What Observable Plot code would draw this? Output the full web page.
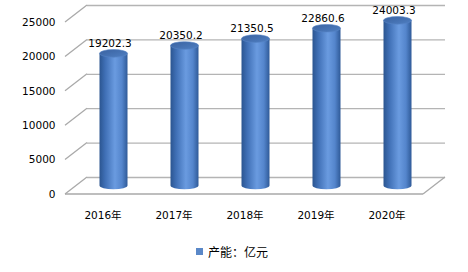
<!DOCTYPE html>
<html><head><meta charset="utf-8">
<script src="https://cdn.jsdelivr.net/npm/d3@7"></script>
<script src="https://cdn.jsdelivr.net/npm/@observablehq/plot@0.6"></script>
<style>
body{margin:0;background:#fff;}
#wrap{position:relative;width:468px;height:272px;overflow:hidden;font-family:"DejaVu Sans",sans-serif;}
#legend{position:absolute;left:196px;top:243px;height:16px;display:flex;align-items:center;font-family:"Noto Sans CJK SC","DejaVu Sans",sans-serif;font-size:12px;color:#000;}
#legend .sw{width:7px;height:7px;background:#5a88c8;margin-right:5px;}
</style></head>
<body><div id="wrap"><div id="chart"></div><div id="legend"><span class="sw"></span><span>产能：亿元</span></div></div>
<script>
const years = ["2016年","2017年","2018年","2019年","2020年"];
const values = [19202.3, 20350.2, 21350.5, 22860.6, 24003.3];
const valueLabels = ["19202.3","20350.2","21350.5","22860.6","24003.3"];
const yTicks = [0, 5000, 10000, 15000, 20000, 25000];
const seriesName = "产能：亿元";

const data = years.map((y, i) => ({year: y, value: values[i], label: valueLabels[i]}));
const DX = 22, DY = -17; // depth offset of back wall
const FRONT_LEFT = 65, FRONT_RIGHT = 423;

function geometry(index, scales) {
  const x = scales.x, y = scales.y;
  const bw = x.bandwidth ? x.bandwidth() : 71.6;
  const ns = "http://www.w3.org/2000/svg";
  const g = d3.create("svg:g");
  const defs = g.append("defs");
  const gb = defs.append("linearGradient").attr("id", "cylBody").attr("x1", "0").attr("x2", "1").attr("y1", "0").attr("y2", "0");
  [["0%","#2b5590"],["20%","#3f6fb5"],["55%","#6a9be0"],["80%","#5485cc"],["100%","#2f5a98"]]
    .forEach(([o,c]) => gb.append("stop").attr("offset", o).attr("stop-color", c));
  const gt = defs.append("linearGradient").attr("id", "cylTop").attr("x1", "0").attr("x2", "1").attr("y1", "0").attr("y2", "1");
  [["0%","#3a62a0"],["100%","#4f7fc2"]].forEach(([o,c]) => gt.append("stop").attr("offset", o).attr("stop-color", c));

  const y0 = y(0);
  const gridColor = "#a9a9a9";
  // left diagonals for each tick
  for (const t of yTicks) {
    g.append("line").attr("x1", FRONT_LEFT).attr("y1", y(t)).attr("x2", FRONT_LEFT + DX).attr("y2", y(t) + DY)
      .attr("stroke", gridColor).attr("stroke-width", 1.3);
  }
  // floor front edge and right diagonal
  g.append("line").attr("x1", FRONT_LEFT).attr("y1", y0).attr("x2", FRONT_RIGHT).attr("y2", y0)
    .attr("stroke", gridColor).attr("stroke-width", 1.3);
  g.append("line").attr("x1", FRONT_RIGHT).attr("y1", y0).attr("x2", FRONT_RIGHT + DX).attr("y2", y0 + DY)
    .attr("stroke", gridColor).attr("stroke-width", 1.3);

  // cylinders
  const rx = 14, ry = 3.8;
  data.forEach(d => {
    const cx = x(d.year) + bw / 2 + DX / 2;
    const yb = y(0) + DY / 2;
    const yt = y(d.value) + DY / 2;
    g.append("path")
      .attr("d", `M${cx - rx},${yt} L${cx - rx},${yb} A${rx},${ry} 0 0 0 ${cx + rx},${yb} L${cx + rx},${yt} Z`)
      .attr("fill", "url(#cylBody)");
    g.append("ellipse").attr("cx", cx).attr("cy", yt).attr("rx", rx).attr("ry", ry)
      .attr("fill", "url(#cylTop)").attr("stroke", "#5583c4").attr("stroke-width", 0.6);
  });
  return g.node();
}

const chart = Plot.plot({
  width: 468,
  height: 234,
  margin: 0,
  style: {fontFamily: "DejaVu Sans, sans-serif", fontSize: "10.5px", color: "#000", background: "#fff"},
  x: {type: "band", domain: years, range: [FRONT_LEFT, FRONT_RIGHT], padding: 0, axis: null},
  y: {domain: [0, 25000], range: [194, 22], axis: null},
  marks: [
    Plot.ruleY(yTicks, {y: d => d, dx: 0, dy: DY, insetLeft: FRONT_LEFT + DX, insetRight: 468 - FRONT_RIGHT - DX, stroke: "#b4b4b4", strokeWidth: 1.3}),
    geometry,
    Plot.text(yTicks, {y: d => d, frameAnchor: "left", dx: 55, textAnchor: "end", text: d => String(d), fill: "#000", fontSize: 10.5}),
    Plot.text(data, {x: "year", y: () => 0, dy: 21, text: "year", fill: "#000", fontSize: 10.5, fontFamily: "DejaVu Sans, Noto Sans CJK SC, sans-serif"}),
    Plot.text(data, {x: "year", y: "value", dx: DX / 2 - 4, dy: DY / 2 - 10.5, text: "label", fill: "#000", fontSize: 10.5})
  ]
});
document.getElementById("chart").appendChild(chart);
</script></body></html>
